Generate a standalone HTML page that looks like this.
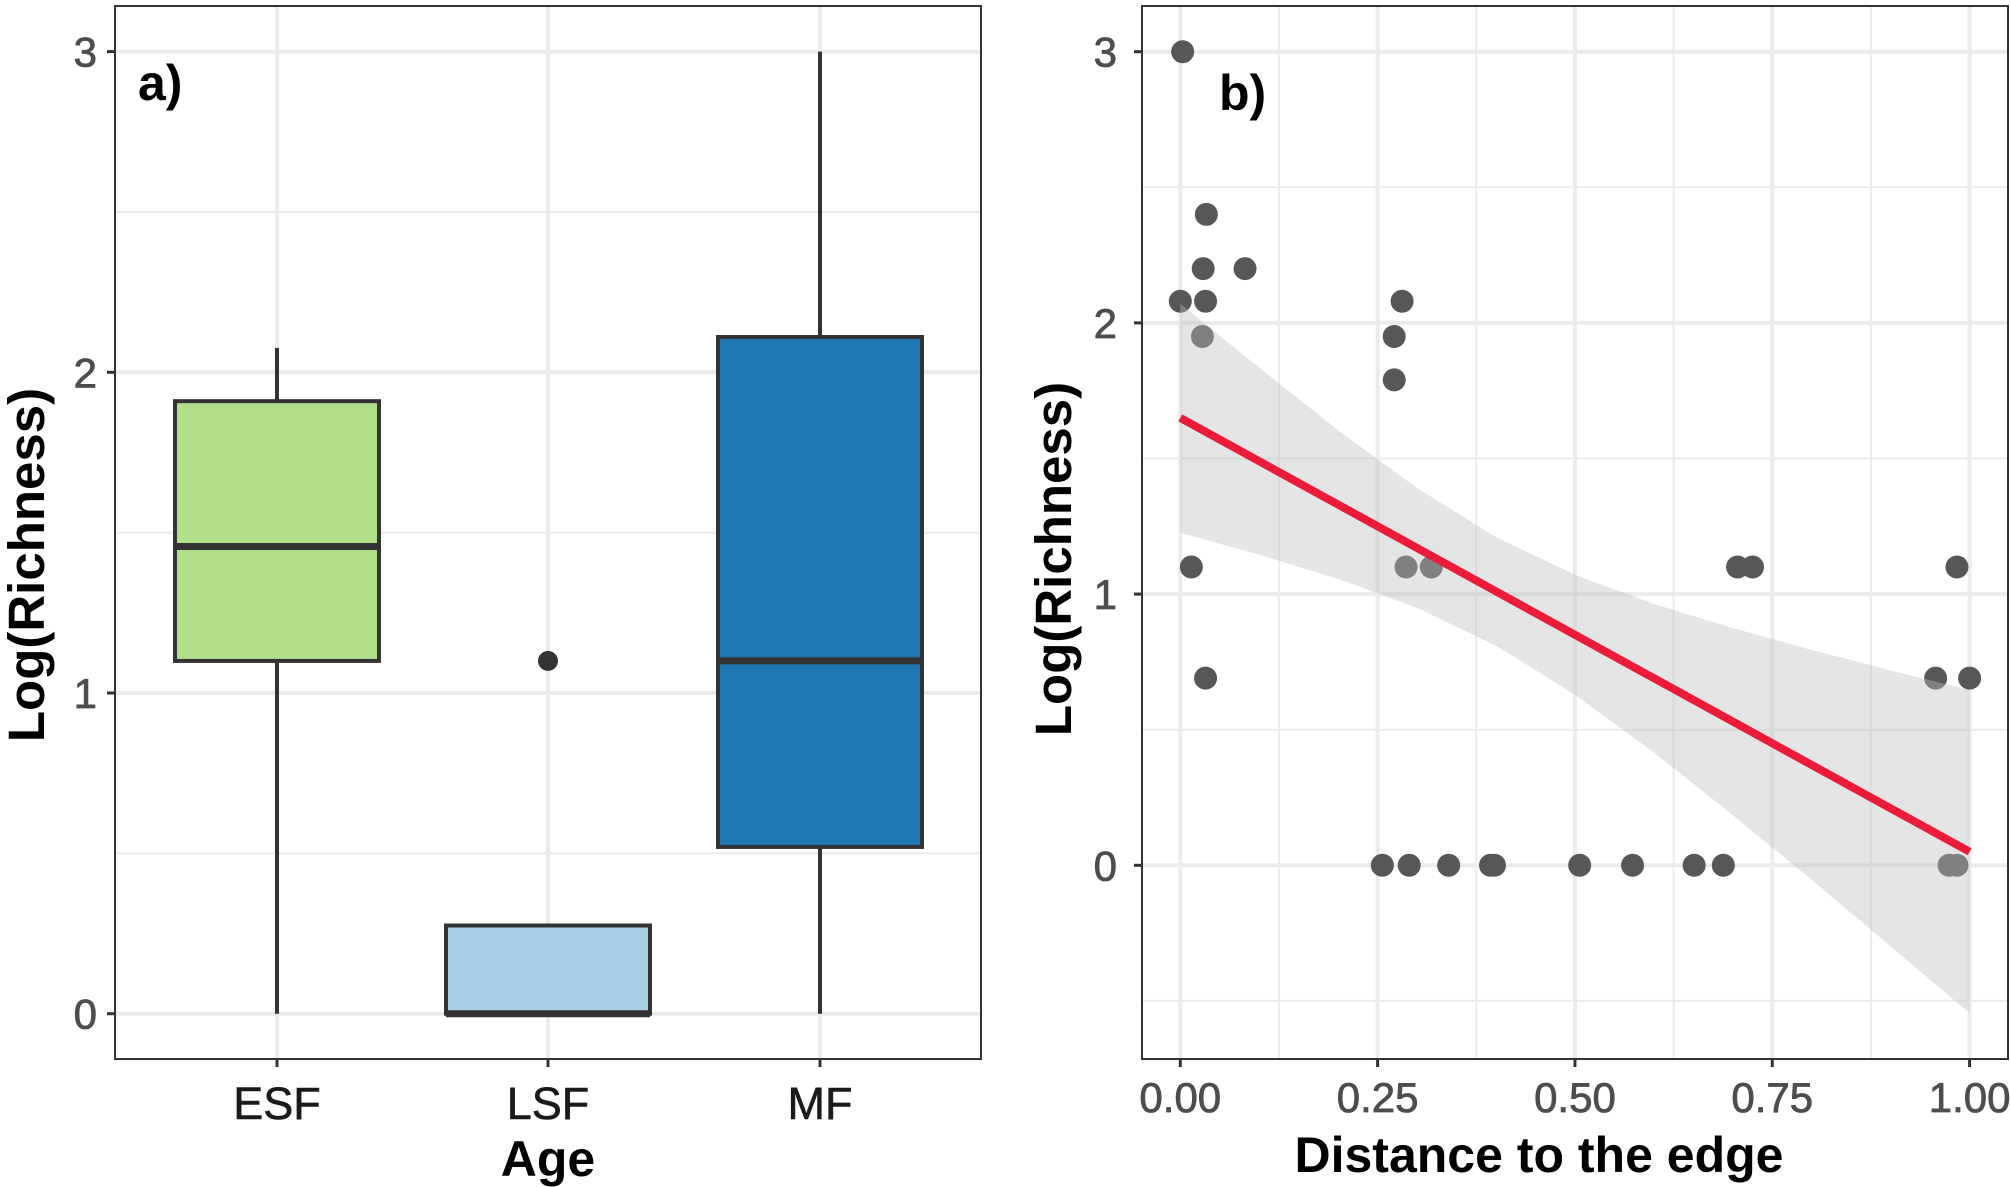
<!DOCTYPE html>
<html><head><meta charset="utf-8"><style>
html,body{margin:0;padding:0;background:#fff}
svg{display:block;font-family:"Liberation Sans",Arial,sans-serif}
</style></head><body>
<svg id="fig" width="2010" height="1187" viewBox="0 0 2010 1187" xmlns="http://www.w3.org/2000/svg">
<g id="pa"></g>
<g id="pb"></g>
</svg>
<script>
// Panel a data
const categories = ["ESF","LSF","MF"];
const boxLow = [0, 0, 0];
const boxQ1 = [1.10, 0, 0.52];
const boxMedian = [1.457, 0, 1.10];
const boxQ3 = [1.91, 0.275, 2.11];
const boxHigh = [2.076, 0.275, 3.0];
const boxColors = ["#b2df8a","#a6cee3","#1f78b4"];
const outlierCat = ["LSF"];
const outlierVal = [1.10];
const aYTicks = [0,1,2,3];
const aYMinor = [0.5,1.5,2.5];

// Panel b data
const distX = [0.003,0.033,0.029,0.082,0.0,0.032,0.028,0.014,0.032,0.271,0.281,0.271,0.286,0.318,0.706,0.725,0.984,0.957,1.0,0.256,0.29,0.34,0.393,0.398,0.506,0.573,0.651,0.688,0.974,0.984];
const richY = [3.0,2.40,2.20,2.20,2.08,2.08,1.95,1.10,0.69,1.95,2.08,1.79,1.10,1.10,1.10,1.10,1.10,0.69,0.69,0,0,0,0,0,0,0,0,0,0,0];
const fitX = [0, 1];
const fitY = [1.65, 0.05];
const ciX = [0,0.1,0.2,0.3,0.4,0.5,0.6,0.7,0.8,0.9,1.0];
const ciLow = [1.226,1.145,1.056,0.949,0.81,0.629,0.416,0.185,-0.054,-0.299,-0.546];
const ciHigh = [2.07,1.835,1.604,1.391,1.21,1.071,0.964,0.875,0.794,0.719,0.646];
const bXTicks = [0,0.25,0.5,0.75,1.0];
const bXTickLabels = ["0.00","0.25","0.50","0.75","1.00"];
const bXMinor = [0.125,0.375,0.625,0.875];
const bYTicks = [0,1,2,3];
const bYMinor = [-0.5,0.5,1.5,2.5];

const NS="http://www.w3.org/2000/svg";
function mk(parent,tag,attrs,text){const e=document.createElementNS(NS,tag);for(const k in attrs)e.setAttribute(k,attrs[k]);if(text!==undefined)e.textContent=text;parent.appendChild(e);return e;}

// ---- Panel a ----
const pa=document.getElementById('pa');
const aL=115,aR=981,aT=6,aB=1059;
const aY=v=>1013.7-v*320.7;
const aX=c=>[277,548,820][categories.indexOf(c)];
const hw=102;
let bg=mk(pa,'rect',{x:aL,y:aT,width:aR-aL,height:aB-aT,fill:'#fff'});


aYMinor.forEach(v=>{const l=mk(pa,'line',{x1:aL,x2:aR,y1:aY(v),y2:aY(v),stroke:'#ebebeb','stroke-width':2});

});
aYTicks.forEach(v=>{const l=mk(pa,'line',{x1:aL,x2:aR,y1:aY(v),y2:aY(v),stroke:'#ebebeb','stroke-width':4});

});
categories.forEach(c=>{const l=mk(pa,'line',{x1:aX(c),x2:aX(c),y1:aT,y2:aB,stroke:'#ebebeb','stroke-width':4});

});
categories.forEach((c,i)=>{
  const x=aX(c);
  const g=mk(pa,'g',{});
  
  
  mk(g,'line',{x1:x,x2:x,y1:aY(boxQ3[i]),y2:aY(boxHigh[i]),stroke:'#333','stroke-width':4});
  mk(g,'line',{x1:x,x2:x,y1:aY(boxQ1[i]),y2:aY(boxLow[i]),stroke:'#333','stroke-width':4});
  mk(g,'rect',{x:x-hw,y:aY(boxQ3[i]),width:2*hw,height:aY(boxQ1[i])-aY(boxQ3[i]),fill:boxColors[i],stroke:'#333','stroke-width':4});
  mk(g,'line',{x1:x-hw,x2:x+hw,y1:aY(boxMedian[i]),y2:aY(boxMedian[i]),stroke:'#333','stroke-width':7});
});
outlierCat.forEach((c,i)=>{const o=mk(pa,'ellipse',{cx:aX(c),cy:aY(outlierVal[i]),rx:10,ry:10,fill:'#333'});

});
let fr=mk(pa,'rect',{x:aL,y:aT,width:aR-aL,height:aB-aT,fill:'none',stroke:'#333','stroke-width':2});


aYTicks.forEach(v=>{mk(pa,'line',{x1:aL-8,x2:aL,y1:aY(v),y2:aY(v),stroke:'#333','stroke-width':3});
const t=mk(pa,'text',{x:aL-18,y:aY(v)+15,'text-anchor':'end','font-size':42,fill:'#4d4d4d','stroke':'#4d4d4d','stroke-width':0.8},String(v));

});
categories.forEach(c=>{mk(pa,'line',{x1:aX(c),x2:aX(c),y1:aB,y2:aB+8,stroke:'#333','stroke-width':3});
const t=mk(pa,'text',{x:aX(c),y:1119,'text-anchor':'middle','font-size':45,fill:'#1a1a1a','stroke':'#1a1a1a','stroke-width':0.6},c);

});
let t1=mk(pa,'text',{x:548,y:1176,'text-anchor':'middle','font-size':50,'font-weight':'bold',fill:'#000'},'Age');


let t2=mk(pa,'text',{transform:'translate(44,565) rotate(-90)','text-anchor':'middle','font-size':51,'font-weight':'bold',fill:'#000'},'Log(Richness)');


let t3=mk(pa,'text',{x:138,y:100,'font-size':50,'font-weight':'bold',fill:'#000'},'a)');



// ---- Panel b ----
const pb=document.getElementById('pb');
const bL=1142,bR=2008,bT=6,bB=1059;
const bX=v=>1180.3+v*789.3;
const bY=v=>865.3-v*271.2;
bYMinor.forEach(v=>{const l=mk(pb,'line',{x1:bL,x2:bR,y1:bY(v),y2:bY(v),stroke:'#ebebeb','stroke-width':2});

});
bXMinor.forEach(v=>{const l=mk(pb,'line',{x1:bX(v),x2:bX(v),y1:bT,y2:bB,stroke:'#ebebeb','stroke-width':2});

});
bYTicks.forEach(v=>{const l=mk(pb,'line',{x1:bL,x2:bR,y1:bY(v),y2:bY(v),stroke:'#ebebeb','stroke-width':4});

});
bXTicks.forEach(v=>{const l=mk(pb,'line',{x1:bX(v),x2:bX(v),y1:bT,y2:bB,stroke:'#ebebeb','stroke-width':4});

});
distX.forEach((x,i)=>{const c=mk(pb,'ellipse',{cx:bX(x),cy:bY(richY[i]),rx:11.5,ry:11.5,fill:'#575757'});

});
let pts=ciX.map((x,i)=>bX(x)+','+bY(ciHigh[i]));
for(let i=ciX.length-1;i>=0;i--)pts.push(bX(ciX[i])+','+bY(ciLow[i]));
let band=mk(pb,'polygon',{points:pts.join(' '),fill:'#bdbdbd','fill-opacity':0.4});


let fl=mk(pb,'line',{x1:bX(fitX[0]),y1:bY(fitY[0]),x2:bX(fitX[1]),y2:bY(fitY[1]),stroke:'#eb1c3a','stroke-width':8});


let fr2=mk(pb,'rect',{x:bL,y:bT,width:bR-bL,height:bB-bT,fill:'none',stroke:'#333','stroke-width':2});


bYTicks.forEach(v=>{mk(pb,'line',{x1:bL-8,x2:bL,y1:bY(v),y2:bY(v),stroke:'#333','stroke-width':3});
const t=mk(pb,'text',{x:1117,y:bY(v)+15,'text-anchor':'end','font-size':42,fill:'#4d4d4d','stroke':'#4d4d4d','stroke-width':0.8},String(v));

});
bXTicks.forEach((v,i)=>{mk(pb,'line',{x1:bX(v),x2:bX(v),y1:bB,y2:bB+8,stroke:'#333','stroke-width':3});
const t=mk(pb,'text',{x:bX(v),y:1112,'text-anchor':'middle','font-size':42,fill:'#4d4d4d','stroke':'#4d4d4d','stroke-width':0.8},bXTickLabels[i]);

});
let t4=mk(pb,'text',{x:1539,y:1172,'text-anchor':'middle','font-size':50,'font-weight':'bold',fill:'#000'},'Distance to the edge');


let t5=mk(pb,'text',{transform:'translate(1071,559) rotate(-90)','text-anchor':'middle','font-size':51,'font-weight':'bold',fill:'#000'},'Log(Richness)');


let t6=mk(pb,'text',{x:1219,y:110,'font-size':50,'font-weight':'bold',fill:'#000'},'b)');


</script>
</body></html>
